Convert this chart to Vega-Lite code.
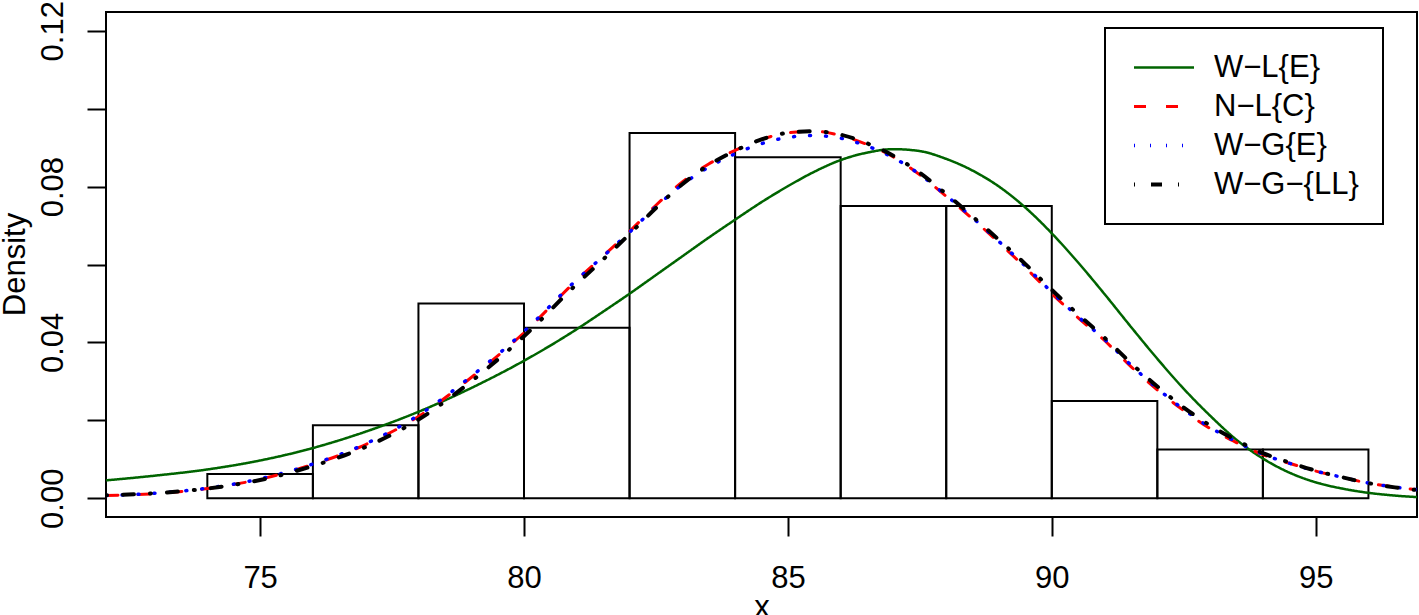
{
"$schema": "https://vega.github.io/schema/vega-lite/v6.json",
"width": 1311, "height": 505,
"autosize": {"type": "none"},
"padding": {"left": 106, "top": 12, "right": 2, "bottom": 98},
"config": {
  "view": {"stroke": "black", "strokeWidth": 2},
  "font": "Liberation Sans",
  "axis": {"domain": false, "grid": false, "tickColor": "black", "tickWidth": 2, "tickSize": 19,
    "labelFont": "Liberation Sans", "labelFontSize": 31, "labelColor": "black",
    "titleFont": "Liberation Sans", "titleFontSize": 31, "titleFontWeight": "normal", "titleColor": "black",
    "labelFlush": false, "labelOverlap": false},
  "axisX": {"labelPadding": 27, "titleBaseline": "alphabetic", "titleY": 99},
  "axisY": {"labelAngle": -90, "labelAlign": "center", "labelBaseline": "alphabetic", "labelPadding": 25,
    "titleAngle": -90, "titleX": -82, "titleY": 252, "titleAlign": "center", "titleBaseline": "alphabetic"},
  "legend": {"orient": "none", "legendX": 999, "legendY": 16, "symbolType": "stroke", "symbolSize": 3600,
    "labelFontSize": 31, "labelFont": "Liberation Sans", "labelColor": "black", "labelOffset": 18,
    "clipHeight": 31, "rowPadding": 7, "padding": 24, "symbolOffset": 3, "strokeColor": "black", "strokeWidth": 2,
    "labelLimit": 0}
},
"datasets": {
"hist": [
{"x0":74,"x1":76,"density":0.00625},{"x0":76,"x1":78,"density":0.01875},{"x0":78,"x1":80,"density":0.05},
{"x0":80,"x1":82,"density":0.04375},{"x0":82,"x1":84,"density":0.09375},{"x0":84,"x1":86,"density":0.0875},
{"x0":86,"x1":88,"density":0.075},{"x0":88,"x1":90,"density":0.075},{"x0":90,"x1":92,"density":0.025},
{"x0":92,"x1":94,"density":0.0125},{"x0":94,"x1":96,"density":0.0125}
],
"curves": [
{"model":"W−L{E}","x":72.08,"y":0.0046},{"model":"W−L{E}","x":73,"y":0.0058},{"model":"W−L{E}","x":74,"y":0.0074},
{"model":"W−L{E}","x":75,"y":0.0097},{"model":"W−L{E}","x":76,"y":0.0129},{"model":"W−L{E}","x":77,"y":0.0171},
{"model":"W−L{E}","x":78,"y":0.0222},{"model":"W−L{E}","x":79,"y":0.0283},{"model":"W−L{E}","x":80,"y":0.0353},
{"model":"W−L{E}","x":80.5,"y":0.0392},{"model":"W−L{E}","x":81,"y":0.0434},{"model":"W−L{E}","x":81.5,"y":0.0479},
{"model":"W−L{E}","x":82,"y":0.0525},{"model":"W−L{E}","x":82.5,"y":0.0573},{"model":"W−L{E}","x":83,"y":0.0621},
{"model":"W−L{E}","x":83.5,"y":0.0669},{"model":"W−L{E}","x":84,"y":0.0715},{"model":"W−L{E}","x":84.5,"y":0.0760},
{"model":"W−L{E}","x":85,"y":0.0801},{"model":"W−L{E}","x":85.5,"y":0.0838},{"model":"W−L{E}","x":86,"y":0.0868},
{"model":"W−L{E}","x":86.5,"y":0.0887},{"model":"W−L{E}","x":87,"y":0.0896},{"model":"W−L{E}","x":87.5,"y":0.0891},
{"model":"W−L{E}","x":88,"y":0.0871},{"model":"W−L{E}","x":88.5,"y":0.0841},{"model":"W−L{E}","x":89,"y":0.0800},
{"model":"W−L{E}","x":89.5,"y":0.0746},{"model":"W−L{E}","x":90,"y":0.0680},{"model":"W−L{E}","x":90.5,"y":0.0605},
{"model":"W−L{E}","x":91,"y":0.0524},{"model":"W−L{E}","x":91.5,"y":0.0440},{"model":"W−L{E}","x":92,"y":0.0358},
{"model":"W−L{E}","x":92.5,"y":0.0281},{"model":"W−L{E}","x":93,"y":0.0212},{"model":"W−L{E}","x":93.5,"y":0.0150},
{"model":"W−L{E}","x":94,"y":0.0102},{"model":"W−L{E}","x":94.5,"y":0.0066},{"model":"W−L{E}","x":95,"y":0.0041},
{"model":"W−L{E}","x":95.5,"y":0.0025},{"model":"W−L{E}","x":96,"y":0.0014},{"model":"W−L{E}","x":96.5,"y":0.0007},
{"model":"W−L{E}","x":96.92,"y":0.0003},

{"model":"N−L{C}","x":72.08,"y":0.0007},{"model":"N−L{C}","x":73,"y":0.0012},{"model":"N−L{C}","x":74,"y":0.0025},
{"model":"N−L{C}","x":75,"y":0.0049},{"model":"N−L{C}","x":76,"y":0.0087},{"model":"N−L{C}","x":77,"y":0.0138},
{"model":"N−L{C}","x":78,"y":0.0210},{"model":"N−L{C}","x":79,"y":0.0310},{"model":"N−L{C}","x":80,"y":0.0425},
{"model":"N−L{C}","x":81,"y":0.0560},{"model":"N−L{C}","x":81.5,"y":0.0622},{"model":"N−L{C}","x":82,"y":0.0685},
{"model":"N−L{C}","x":82.5,"y":0.0752},{"model":"N−L{C}","x":83,"y":0.0812},{"model":"N−L{C}","x":83.5,"y":0.0858},
{"model":"N−L{C}","x":84,"y":0.0893},{"model":"N−L{C}","x":84.5,"y":0.0921},{"model":"N−L{C}","x":85,"y":0.0938},
{"model":"N−L{C}","x":85.5,"y":0.0942},{"model":"N−L{C}","x":86,"y":0.0931},{"model":"N−L{C}","x":86.5,"y":0.0908},
{"model":"N−L{C}","x":87,"y":0.0876},{"model":"N−L{C}","x":87.5,"y":0.0830},{"model":"N−L{C}","x":88,"y":0.0775},
{"model":"N−L{C}","x":88.5,"y":0.0717},{"model":"N−L{C}","x":89,"y":0.0656},{"model":"N−L{C}","x":89.5,"y":0.0592},
{"model":"N−L{C}","x":90,"y":0.0525},{"model":"N−L{C}","x":90.5,"y":0.0463},{"model":"N−L{C}","x":91,"y":0.0405},
{"model":"N−L{C}","x":91.5,"y":0.0338},{"model":"N−L{C}","x":92,"y":0.0278},{"model":"N−L{C}","x":92.5,"y":0.0225},
{"model":"N−L{C}","x":93,"y":0.0179},{"model":"N−L{C}","x":93.5,"y":0.0143},{"model":"N−L{C}","x":94,"y":0.0112},
{"model":"N−L{C}","x":94.5,"y":0.0090},{"model":"N−L{C}","x":95,"y":0.0070},{"model":"N−L{C}","x":95.5,"y":0.0054},
{"model":"N−L{C}","x":96,"y":0.0039},{"model":"N−L{C}","x":96.5,"y":0.0029},{"model":"N−L{C}","x":96.92,"y":0.0022},

{"model":"W−G{E}","x":72.08,"y":0.0007},{"model":"W−G{E}","x":73,"y":0.0013},{"model":"W−G{E}","x":74,"y":0.0026},
{"model":"W−G{E}","x":75,"y":0.0050},{"model":"W−G{E}","x":76,"y":0.0088},{"model":"W−G{E}","x":77,"y":0.0140},
{"model":"W−G{E}","x":78,"y":0.0213},{"model":"W−G{E}","x":79,"y":0.0313},{"model":"W−G{E}","x":80,"y":0.0428},
{"model":"W−G{E}","x":81,"y":0.0561},{"model":"W−G{E}","x":81.5,"y":0.0621},{"model":"W−G{E}","x":82,"y":0.0683},
{"model":"W−G{E}","x":82.5,"y":0.0748},{"model":"W−G{E}","x":83,"y":0.0805},{"model":"W−G{E}","x":83.5,"y":0.0850},
{"model":"W−G{E}","x":84,"y":0.0884},{"model":"W−G{E}","x":84.5,"y":0.0910},{"model":"W−G{E}","x":85,"y":0.0926},
{"model":"W−G{E}","x":85.5,"y":0.0931},{"model":"W−G{E}","x":86,"y":0.0924},{"model":"W−G{E}","x":86.5,"y":0.0904},
{"model":"W−G{E}","x":87,"y":0.0874},{"model":"W−G{E}","x":87.5,"y":0.0831},{"model":"W−G{E}","x":88,"y":0.0777},
{"model":"W−G{E}","x":88.5,"y":0.0720},{"model":"W−G{E}","x":89,"y":0.0659},{"model":"W−G{E}","x":89.5,"y":0.0596},
{"model":"W−G{E}","x":90,"y":0.0529},{"model":"W−G{E}","x":90.5,"y":0.0466},{"model":"W−G{E}","x":91,"y":0.0408},
{"model":"W−G{E}","x":91.5,"y":0.0342},{"model":"W−G{E}","x":92,"y":0.0282},{"model":"W−G{E}","x":92.5,"y":0.0228},
{"model":"W−G{E}","x":93,"y":0.0182},{"model":"W−G{E}","x":93.5,"y":0.0145},{"model":"W−G{E}","x":94,"y":0.0113},
{"model":"W−G{E}","x":94.5,"y":0.0090},{"model":"W−G{E}","x":95,"y":0.0070},{"model":"W−G{E}","x":95.5,"y":0.0054},
{"model":"W−G{E}","x":96,"y":0.0039},{"model":"W−G{E}","x":96.5,"y":0.0029},{"model":"W−G{E}","x":96.92,"y":0.0022},

{"model":"W−G−{LL}","x":72.08,"y":0.0008},{"model":"W−G−{LL}","x":73,"y":0.0013},{"model":"W−G−{LL}","x":74,"y":0.0025},
{"model":"W−G−{LL}","x":75,"y":0.0047},{"model":"W−G−{LL}","x":76,"y":0.0083},{"model":"W−G−{LL}","x":77,"y":0.0132},
{"model":"W−G−{LL}","x":78,"y":0.0202},{"model":"W−G−{LL}","x":79,"y":0.0300},{"model":"W−G−{LL}","x":80,"y":0.0416},
{"model":"W−G−{LL}","x":81,"y":0.0550},{"model":"W−G−{LL}","x":81.5,"y":0.0613},{"model":"W−G−{LL}","x":82,"y":0.0678},
{"model":"W−G−{LL}","x":82.5,"y":0.0745},{"model":"W−G−{LL}","x":83,"y":0.0806},{"model":"W−G−{LL}","x":83.5,"y":0.0855},
{"model":"W−G−{LL}","x":84,"y":0.0892},{"model":"W−G−{LL}","x":84.5,"y":0.0921},{"model":"W−G−{LL}","x":85,"y":0.0938},
{"model":"W−G−{LL}","x":85.5,"y":0.0942},{"model":"W−G−{LL}","x":86,"y":0.0933},{"model":"W−G−{LL}","x":86.5,"y":0.0911},
{"model":"W−G−{LL}","x":87,"y":0.0879},{"model":"W−G−{LL}","x":87.5,"y":0.0835},{"model":"W−G−{LL}","x":88,"y":0.0781},
{"model":"W−G−{LL}","x":88.5,"y":0.0723},{"model":"W−G−{LL}","x":89,"y":0.0663},{"model":"W−G−{LL}","x":89.5,"y":0.0601},
{"model":"W−G−{LL}","x":90,"y":0.0535},{"model":"W−G−{LL}","x":90.5,"y":0.0472},{"model":"W−G−{LL}","x":91,"y":0.0412},
{"model":"W−G−{LL}","x":91.5,"y":0.0347},{"model":"W−G−{LL}","x":92,"y":0.0287},{"model":"W−G−{LL}","x":92.5,"y":0.0233},
{"model":"W−G−{LL}","x":93,"y":0.0187},{"model":"W−G−{LL}","x":93.5,"y":0.0149},{"model":"W−G−{LL}","x":94,"y":0.0116},
{"model":"W−G−{LL}","x":94.5,"y":0.0092},{"model":"W−G−{LL}","x":95,"y":0.0071},{"model":"W−G−{LL}","x":95.5,"y":0.0054},
{"model":"W−G−{LL}","x":96,"y":0.0039},{"model":"W−G−{LL}","x":96.5,"y":0.0028},{"model":"W−G−{LL}","x":96.92,"y":0.0021}
]
},
"layer": [
  {"data": {"name": "hist"},
   "mark": {"type": "rect", "filled": false, "stroke": "black", "strokeWidth": 2},
   "encoding": {
     "x": {"field": "x0", "type": "quantitative", "title": "x",
       "scale": {"domain": [72.08, 96.92], "nice": false, "zero": false},
       "axis": {"values": [75, 80, 85, 90, 95]}},
     "x2": {"field": "x1"},
     "y": {"field": "density", "type": "quantitative", "title": "Density",
       "scale": {"domain": [-0.0048, 0.1248], "nice": false, "zero": false},
       "axis": {"values": [0, 0.02, 0.04, 0.06, 0.08, 0.1, 0.12],
         "labelExpr": "round(datum.value*100) % 4 == 0 ? format(datum.value, '.2f') : ''"}},
     "y2": {"datum": 0}
   }},
  {"data": {"name": "curves"},
   "mark": {"type": "line", "interpolate": "monotone", "strokeCap": "round", "clip": true},
   "encoding": {
     "x": {"field": "x", "type": "quantitative", "title": "x"},
     "y": {"field": "y", "type": "quantitative", "title": "Density"},
     "color": {"field": "model", "type": "nominal", "title": null,
       "scale": {"domain": ["W−L{E}", "N−L{C}", "W−G{E}", "W−G−{LL}"], "range": ["#006400", "#ff0000", "#0000ff", "#000000"]}},
     "strokeDash": {"field": "model", "type": "nominal", "title": null,
       "scale": {"domain": ["W−L{E}", "N−L{C}", "W−G{E}", "W−G−{LL}"], "range": [[1, 0], [12, 20], [1, 15], [1, 16, 11, 16]]}},
     "strokeWidth": {"field": "model", "type": "nominal", "title": null,
       "scale": {"domain": ["W−L{E}", "N−L{C}", "W−G{E}", "W−G−{LL}"], "range": [2.5, 4, 4, 4]}}
   }}
]
}
